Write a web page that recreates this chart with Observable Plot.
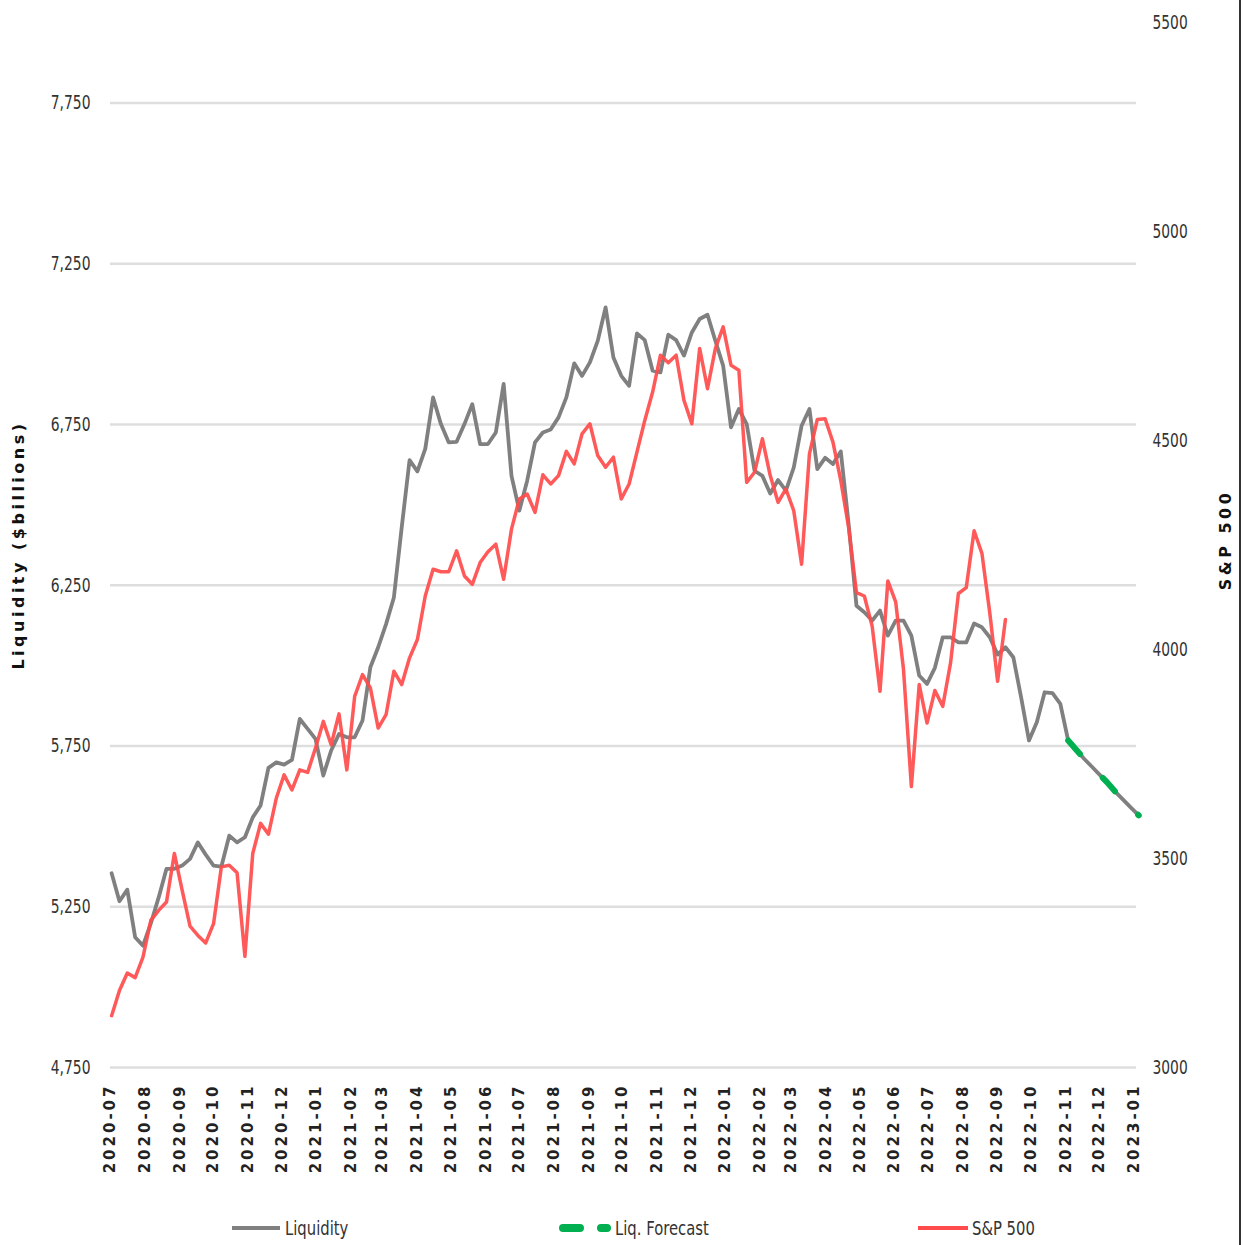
<!DOCTYPE html>
<html>
<head>
<meta charset="utf-8">
<script src="https://cdn.jsdelivr.net/npm/d3@7"></script>
<script src="https://cdn.jsdelivr.net/npm/@observablehq/plot@0.6"></script>
<style>
  html, body { margin: 0; padding: 0; background: #fff; }
  #wrap { position: relative; width: 1244px; height: 1245px; overflow: hidden; background: #fff; }
  #edge { position: absolute; left: 1239px; top: 0; width: 2px; height: 1245px; background: #333; }
  .lg { position: absolute; top: 1216px; height: 24px; display: flex; align-items: center;
        font-family: "DejaVu Sans", sans-serif; font-size: 20px; color: #333; white-space: nowrap; }
  .lg svg { display: block; }
  .lg span { display: inline-block; transform: scaleX(0.74); transform-origin: left center; }
</style>
</head>
<body>
<div id="wrap"></div>
<script>
// ---- data ----
const weekStart = "2020-07-02"; // weekly observations (Thursdays)
const liquidity = [
  5354, 5267, 5303, 5155, 5129, 5198, 5279, 5368, 5368, 5378,
  5399, 5450, 5412, 5378, 5375, 5471, 5450, 5466, 5528, 5565,
  5682, 5699, 5692, 5707, 5834, 5803, 5772, 5658, 5736, 5787,
  5777, 5777, 5829, 5995, 6057, 6129, 6212, 6430, 6639, 6604,
  6674, 6834, 6751, 6694, 6696, 6751, 6813, 6689, 6689, 6725,
  6876, 6590, 6482, 6575, 6694, 6725, 6734, 6772, 6834, 6940,
  6901, 6943, 7010, 7114, 6958, 6901, 6870, 7033, 7012, 6917,
  6912, 7029, 7012, 6964, 7036, 7078, 7091, 7010, 6932, 6741,
  6798, 6751, 6606, 6590, 6535, 6577, 6544, 6616, 6746, 6798,
  6611, 6646, 6627, 6666, 6440, 6186, 6166, 6140, 6171, 6093,
  6140, 6140, 6093, 5969, 5943, 5993, 6088, 6088, 6072, 6072,
  6131, 6119, 6088, 6034, 6057, 6026, 5901, 5767, 5824, 5917,
  5914, 5881
];
const liqForecast = [5767, 5739, 5711, 5686, 5661, 5636, 5608, 5583, 5558, 5534];
const sp500 = [
  3124, 3184, 3226, 3215, 3264, 3352, 3376, 3396, 3512, 3424,
  3338, 3316, 3298, 3344, 3480, 3484, 3466, 3266, 3512, 3584,
  3558, 3644, 3700, 3664, 3712, 3706, 3764, 3828, 3772, 3846,
  3712, 3888, 3940, 3908, 3812, 3844, 3948, 3916, 3980, 4024,
  4128, 4192, 4186, 4186, 4236, 4176, 4156, 4208, 4234, 4252,
  4168, 4288, 4360, 4372, 4328, 4418, 4396, 4416, 4474, 4444,
  4516, 4540, 4464, 4436, 4460, 4360, 4396, 4472, 4548, 4616,
  4704, 4686, 4704, 4596, 4540, 4720, 4624, 4720, 4772, 4680,
  4668, 4400, 4424, 4504, 4416, 4352, 4384, 4332, 4204, 4468,
  4550, 4552, 4496, 4404, 4292, 4136, 4128, 4056, 3900, 4164,
  4114, 3952, 3672, 3916, 3824, 3902, 3864, 3968, 4134, 4148,
  4284, 4230, 4088, 3924, 4072
];
const liqTicks = [4750, 5250, 5750, 6250, 6750, 7250, 7750];
const spTicks = [3000, 3500, 4000, 4500, 5000, 5500];
const liqDomain = [4750, 8000];
const spDomain = [3000, 5500];
const xStart = "2020-07-01", xEnd = "2023-01-03";
const monthStart = "2020-07-01", monthEnd = "2023-01-01";
const labels = { left: "Liquidity ($billions)", right: "S&P 500",
                 liq: "Liquidity", fc: "Liq. Forecast", sp: "S&P 500" };
const colors = { liq: "#808080", fc: "#00B050", sp: "#FF4B4B", grid: "#dedede" };

// ---- build rows ----
const utc = s => new Date(s + "T00:00:00Z");
const t0 = utc(weekStart);
const wk = i => d3.utcDay.offset(t0, 7 * i);
const liqRows = liquidity.map((v, i) => ({ date: wk(i), value: v }));
const fcRows = liqForecast.map((v, i) => ({ date: wk(liquidity.length + i), value: v }));
const liqAll = liqRows.concat(fcRows);
const spRows = sp500.map((v, i) => ({ date: wk(i), value: v }));

// map S&P onto liquidity scale (dual axis)
const k = (liqDomain[1] - liqDomain[0]) / (spDomain[1] - spDomain[0]);
const toLeft = s => liqDomain[0] + (s - spDomain[0]) * k;
const fromLeft = l => spDomain[0] + (l - liqDomain[0]) / k;

const sans = "DejaVu Sans, sans-serif";
const months = d3.utcMonth.range(utc(monthStart), d3.utcDay.offset(utc(monthEnd), 1));

const chart = Plot.plot({
  width: 1244,
  height: 1190,
  marginLeft: 110,
  marginRight: 108,
  marginTop: 22,
  marginBottom: 123,
  style: { background: "white", overflow: "visible" },
  x: { type: "utc", domain: [utc(xStart), utc(xEnd)] },
  y: { domain: liqDomain },
  marks: [
    Plot.gridY(liqTicks, { stroke: colors.grid, strokeOpacity: 1, strokeWidth: 2.5 }),
    Plot.axisY(liqTicks, { anchor: "left", tickSize: 0, tickPadding: 20, tickFormat: d3.format(","),
      fontSize: 20, fontFamily: sans, fill: "#333", label: null }),
    Plot.axisY(spTicks.map(toLeft), { anchor: "right", tickSize: 0, tickPadding: 16,
      tickFormat: d => String(Math.round(fromLeft(d))), fontSize: 20, fontFamily: sans, fill: "#333", label: null }),
    Plot.axisX(months, { tickRotate: -90, tickSize: 0, tickPadding: 16, tickFormat: d3.utcFormat("%Y-%m"),
      fontSize: 15, fontWeight: "bold", fontFamily: sans, fill: "#222", label: null }),
    Plot.line(liqAll, { x: "date", y: "value", stroke: colors.liq, strokeWidth: 3.8, strokeLinejoin: "round" }),
    Plot.line(fcRows, { x: "date", y: "value", stroke: colors.fc, strokeWidth: 6, strokeDasharray: "18,33", strokeLinecap: "round" }),
    Plot.line(spRows, { x: "date", y: d => toLeft(d.value), stroke: colors.sp, strokeWidth: 3.5, strokeOpacity: 0.92, strokeLinejoin: "round" }),
    Plot.text([labels.left], { text: d => d, frameAnchor: "left", textAnchor: "middle", dx: -92, rotate: -90, fontWeight: "bold",
      fontSize: 16, fontFamily: sans, fill: "#111" }),
    Plot.text([labels.right], { text: d => d, frameAnchor: "right", textAnchor: "middle", dx: 89, dy: -5, rotate: -90, fontWeight: "bold",
      fontSize: 16, fontFamily: sans, fill: "#111" })
  ]
});

const svg = d3.select(chart);
svg.selectAll('g[aria-label="x-axis tick label"] text').style("letter-spacing", "3px");
svg.selectAll('g[aria-label="text"] text').style("letter-spacing", "3.5px");
// condensed look for the value labels
svg.selectAll('g[aria-label="y-axis tick label"] text').each(function () {
  const s = this.textContent;
  const digits = s.replace(/[^0-9]/g, "").length;
  const commas = s.length - digits;
  this.setAttribute("textLength", digits * 8.8 + commas * 4.6);
  this.setAttribute("lengthAdjust", "spacingAndGlyphs");
});

const wrap = document.getElementById("wrap");
wrap.appendChild(chart);

// ---- legend ----
function legendItem(left, swatch, text) {
  const d = document.createElement("div");
  d.className = "lg";
  d.style.left = left + "px";
  d.innerHTML = swatch + "<span>" + text + "</span>";
  wrap.appendChild(d);
}
legendItem(229, `<svg width="56" height="12"><line x1="3" x2="51" y1="6" y2="6" stroke="${colors.liq}" stroke-width="4"/></svg>`, labels.liq);
legendItem(556, `<svg width="59" height="12"><line x1="7" x2="51" y1="6" y2="6" stroke="${colors.fc}" stroke-width="8" stroke-dasharray="17,21" stroke-linecap="round"/></svg>`, labels.fc);
legendItem(916, `<svg width="56" height="12"><line x1="2" x2="52" y1="6" y2="6" stroke="${colors.sp}" stroke-width="4"/></svg>`, labels.sp);

const edge = document.createElement("div");
edge.id = "edge";
wrap.appendChild(edge);
</script>
</body>
</html>
